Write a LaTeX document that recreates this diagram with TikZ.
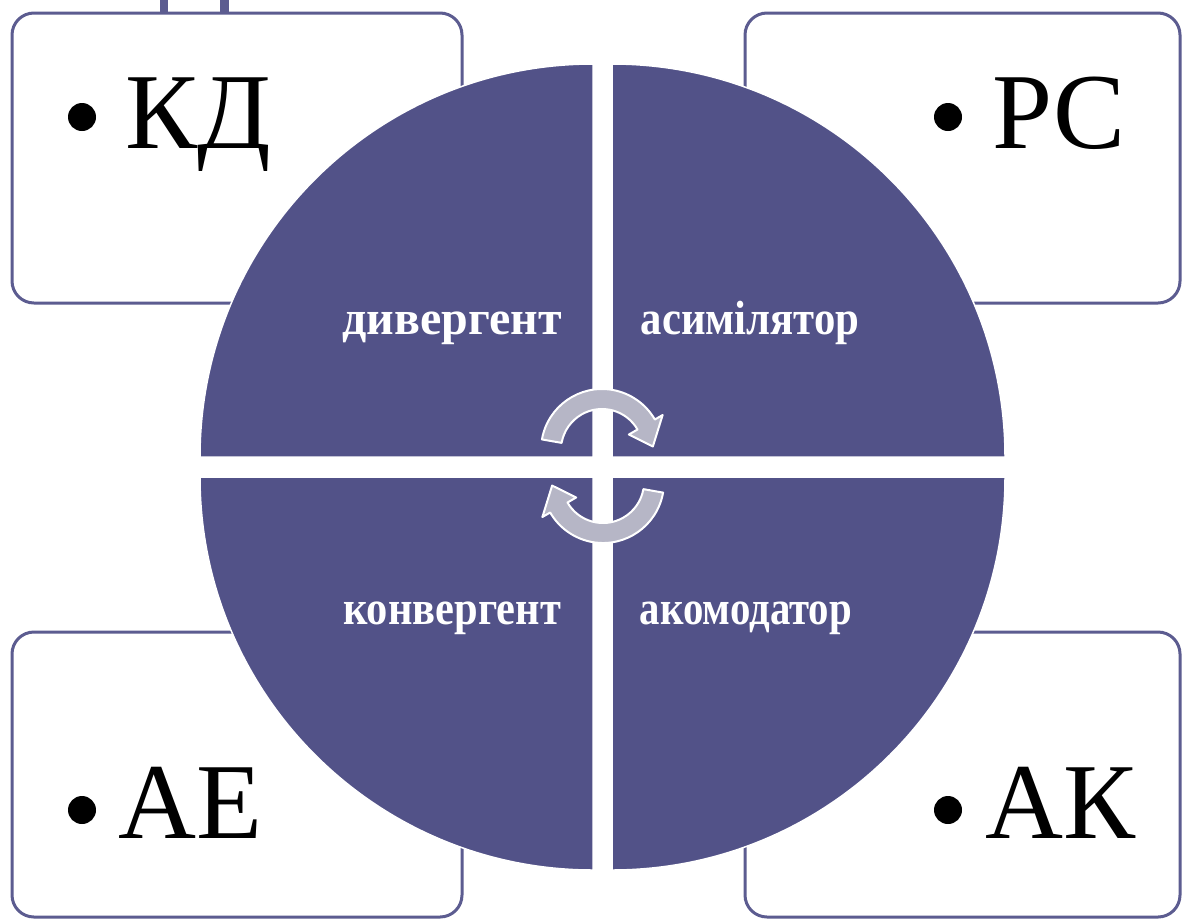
\documentclass[tikz,border=0pt]{standalone}
\usepackage{fontspec}
\usepackage{graphicx}
\setmainfont{Liberation Serif}
\definecolor{quad}{RGB}{82,82,136}
\definecolor{boxline}{RGB}{92,92,144}
\definecolor{arrowfill}{RGB}{182,182,198}
\tikzset{
  infobox/.style={draw=boxline, line width=3pt, fill=white, rounded corners=22pt},
  quadrant/.style={fill=quad, draw=white, line width=1.5pt},
  cyclearrow/.style={fill=arrowfill, draw=white, line width=2pt, line join=round},
  biglabel/.style={anchor=base west, inner sep=0pt, font=\fontsize{108}{110}\selectfont},
  quadlabel/.style={anchor=base, inner sep=0pt, text=white, font=\fontsize{48}{50}\selectfont\bfseries},
  bulletdot/.style={fill=black}
}
\begin{document}
\begin{tikzpicture}[x=1pt, y=-1pt]
\useasboundingbox (0,0) rectangle (1182,919);
\fill[white] (0,0) rectangle (1182,919);
% fragments at top
\fill[boxline] (160,0) rectangle (168,14);
\fill[boxline] (220,0) rectangle (229,14);
% boxes
\draw[infobox] (12,13) rectangle (462,303);
\draw[infobox] (745,13) rectangle (1180,303);
\draw[infobox] (12,632) rectangle (462,917);
\draw[infobox] (745,632) rectangle (1180,917);
% big labels
\fill[bulletdot] (82,117) circle (14);
\node[biglabel] (kd) at (125,148) {КД};
\fill[bulletdot] (948,117) circle (14);
\node[biglabel] (rs) at (992,148) {РС};
\fill[bulletdot] (82,810) circle (14);
\node[biglabel] (ae) at (118,838) {АЕ};
\fill[bulletdot] (948,810) circle (14);
\node[biglabel] (ak) at (985,838) {АК};
% quadrants
\draw[quadrant] (593,457) -- ++(-393,0) arc[start angle=180, end angle=270, radius=393] -- cycle;
\draw[quadrant] (612,457) -- ++(0,-393) arc[start angle=270, end angle=360, radius=393] -- cycle;
\draw[quadrant] (612,477) -- ++(393,0) arc[start angle=0, end angle=90, radius=393] -- cycle;
\draw[quadrant] (593,477) -- ++(0,393) arc[start angle=90, end angle=180, radius=393] -- cycle;
% quadrant labels
\node[quadlabel] (div) at (452,334) {дивергент};
\node[quadlabel] (asm) at (750,334) {\scalebox{0.89}[1]{асимілятор}};
\node[quadlabel] (kon) at (452,624) {\scalebox{0.885}[1]{конвергент}};
\node[quadlabel] (akm) at (746,624) {\scalebox{0.85}[1]{акомодатор}};
% cycle arrows
\begin{scope}[shift={(602,450)}]
\draw[cyclearrow] (190:61) arc[start angle=190, end angle=330, radius=61]
  -- (330:70) -- (356:51) -- (330:31) -- (330:41)
  arc[start angle=330, end angle=190, radius=41] -- cycle;
\end{scope}
\begin{scope}[shift={(603,482)}]
\draw[cyclearrow] (10:61) arc[start angle=10, end angle=150, radius=61]
  -- (150:70) -- (176:51) -- (150:31) -- (150:41)
  arc[start angle=150, end angle=10, radius=41] -- cycle;
\end{scope}
\end{tikzpicture}
\end{document}
